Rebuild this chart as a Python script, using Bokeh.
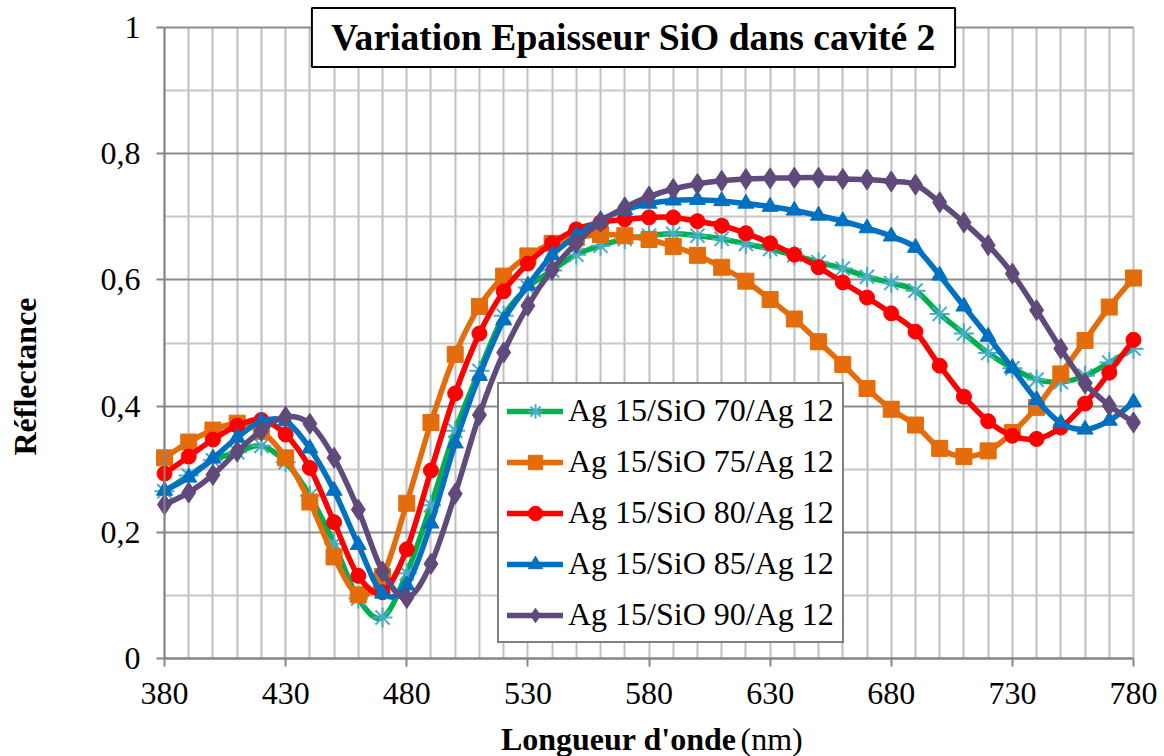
import math
from bokeh.plotting import figure
from bokeh.models import (Range1d, FixedTicker, CustomJSTickFormatter, Label,
                          Legend, LegendItem, ColumnDataSource)
from bokeh.embed import file_html
from bokeh.resources import INLINE

# ---------------- data ----------------
wavelength = [380, 390, 400, 410, 420, 430, 440, 450, 460, 470, 480, 490, 500,
              510, 520, 530, 540, 550, 560, 570, 580, 590, 600, 610, 620, 630,
              640, 650, 660, 670, 680, 690, 700, 710, 720, 730, 740, 750, 760,
              770, 780]

sio70 = [0.265, 0.290, 0.314, 0.327, 0.337, 0.311, 0.258, 0.182, 0.095, 0.065,
         0.135, 0.243, 0.361, 0.456, 0.543, 0.588, 0.615, 0.640, 0.654, 0.665,
         0.670, 0.673, 0.670, 0.665, 0.657, 0.649, 0.639, 0.628, 0.618, 0.605,
         0.595, 0.583, 0.546, 0.515, 0.484, 0.460, 0.442, 0.438, 0.448, 0.469,
         0.491]

sio75 = [0.318, 0.343, 0.362, 0.373, 0.360, 0.318, 0.248, 0.161, 0.101, 0.130,
         0.246, 0.374, 0.482, 0.558, 0.606, 0.638, 0.658, 0.667, 0.672, 0.670,
         0.664, 0.653, 0.639, 0.620, 0.598, 0.569, 0.538, 0.502, 0.466, 0.428,
         0.395, 0.370, 0.333, 0.320, 0.329, 0.358, 0.398, 0.451, 0.504, 0.557,
         0.603]

sio80 = [0.293, 0.320, 0.347, 0.369, 0.378, 0.355, 0.302, 0.216, 0.131, 0.105,
         0.173, 0.298, 0.420, 0.515, 0.582, 0.626, 0.658, 0.680, 0.691, 0.696,
         0.699, 0.699, 0.693, 0.686, 0.674, 0.658, 0.640, 0.620, 0.596, 0.572,
         0.547, 0.518, 0.464, 0.415, 0.376, 0.353, 0.348, 0.366, 0.404, 0.453,
         0.505]

sio85 = [0.266, 0.287, 0.317, 0.350, 0.376, 0.376, 0.333, 0.266, 0.180, 0.103,
         0.116, 0.214, 0.341, 0.448, 0.536, 0.591, 0.639, 0.670, 0.695, 0.711,
         0.721, 0.726, 0.727, 0.725, 0.721, 0.716, 0.710, 0.702, 0.693, 0.682,
         0.669, 0.651, 0.607, 0.558, 0.510, 0.460, 0.410, 0.373, 0.363, 0.377,
         0.406]

sio90 = [0.244, 0.263, 0.291, 0.328, 0.361, 0.383, 0.372, 0.318, 0.236, 0.138,
         0.096, 0.150, 0.261, 0.386, 0.485, 0.559, 0.616, 0.658, 0.692, 0.715,
         0.732, 0.744, 0.752, 0.757, 0.760, 0.761, 0.762, 0.762, 0.760, 0.759,
         0.756, 0.751, 0.723, 0.691, 0.655, 0.610, 0.552, 0.491, 0.436, 0.401,
         0.374]

series_names = ["Ag 15/SiO 70/Ag 12", "Ag 15/SiO 75/Ag 12", "Ag 15/SiO 80/Ag 12",
                "Ag 15/SiO 85/Ag 12", "Ag 15/SiO 90/Ag 12"]
series_values = [sio70, sio75, sio80, sio85, sio90]

x_ticks = [380, 430, 480, 530, 580, 630, 680, 730, 780]
y_ticks = [0, 0.2, 0.4, 0.6, 0.8, 1]
x_grid = list(range(380, 781, 10))
y_minor = [0.1, 0.3, 0.5, 0.7, 0.9]

# ---------------- styles / layout ----------------
line_colors = ["#00B050", "#E46C0A", "#FF0000", "#0070C0", "#604A7B"]
marker_colors = ["#4BACC6", "#E46C0A", "#FF0000", "#0070C0", "#604A7B"]
markers = ["asterisk", "square", "circle", "triangle", "diamond"]
marker_sizes = [20, 16, 15, 16, 21]
FONT = "Liberation Serif"
W, H = 1164, 756
PLOT_L, PLOT_R, PLOT_T, PLOT_B = 164, 1133, 27, 658   # plot area in pixels
X0, X1, Y0, Y1 = 380, 780, 0, 1


def dx(px):
    return X0 + (px - PLOT_L) * (X1 - X0) / (PLOT_R - PLOT_L)


def dy(py):
    return Y0 + (PLOT_B - py) * (Y1 - Y0) / (PLOT_B - PLOT_T)


def smooth_segments(xs, ys):
    """Bezier control points (Catmull-Rom style, like spreadsheet smoothing)."""
    n = len(xs)
    d = dict(x0=[], y0=[], x1=[], y1=[], cx0=[], cy0=[], cx1=[], cy1=[])
    for i in range(n - 1):
        xm, ym = (xs[i - 1], ys[i - 1]) if i > 0 else (xs[i], ys[i])
        xp, yp = (xs[i + 2], ys[i + 2]) if i + 2 < n else (xs[i + 1], ys[i + 1])
        d["x0"].append(xs[i]); d["y0"].append(ys[i])
        d["x1"].append(xs[i + 1]); d["y1"].append(ys[i + 1])
        d["cx0"].append(xs[i] + (xs[i + 1] - xm) / 6.0)
        d["cy0"].append(ys[i] + (ys[i + 1] - ym) / 6.0)
        d["cx1"].append(xs[i + 1] - (xp - xs[i]) / 6.0)
        d["cy1"].append(ys[i + 1] - (yp - ys[i]) / 6.0)
    return ColumnDataSource(d)


p = figure(width=W, height=H,
           x_range=Range1d(dx(0), dx(W)), y_range=Range1d(dy(H), dy(0)),
           output_backend="svg", toolbar_location=None, min_border=0)
p.title.visible = False
p.outline_line_color = None
p.background_fill_color = "white"
p.border_fill_color = "white"

# grids (limited to the data area)
p.xgrid.ticker = FixedTicker(ticks=x_grid)
p.xgrid.grid_line_color = "#BFBFBF"
p.xgrid.grid_line_width = 2
p.ygrid.ticker = FixedTicker(ticks=y_ticks, minor_ticks=y_minor)
p.ygrid.grid_line_color = "#8C8C8C"
p.ygrid.grid_line_width = 2
p.ygrid.minor_grid_line_color = "#C8C8C8"
p.ygrid.minor_grid_line_width = 2
p.xgrid.bounds = (X0, X1)
p.ygrid.bounds = (Y0, Y1)
p.xgrid.cross_bounds = (Y0, Y1)
p.ygrid.cross_bounds = (X0, X1)

# axes, fixed at the data origin
for ax in (p.xaxis[0], p.yaxis[0]):
    ax.axis_line_color = "#868686"
    ax.axis_line_width = 2
    ax.major_tick_line_color = "#868686"
    ax.major_tick_line_width = 2
    ax.major_tick_out = 8
    ax.major_tick_in = 0
    ax.minor_tick_line_color = None
    ax.major_label_text_font = FONT
    ax.major_label_text_font_size = "32px"
    ax.major_label_text_color = "black"

p.xaxis.ticker = FixedTicker(ticks=x_ticks)
p.xaxis.fixed_location = Y0
p.xaxis.bounds = (X0, X1)
p.xaxis.major_label_standoff = 16
p.yaxis.ticker = FixedTicker(ticks=y_ticks)
p.yaxis.fixed_location = X0
p.yaxis.bounds = (Y0, Y1)
p.yaxis.major_label_standoff = 16
p.yaxis.formatter = CustomJSTickFormatter(code="""
    if (Math.abs(tick) < 1e-9) return "0";
    if (Math.abs(tick - 1) < 1e-9) return "1";
    return tick.toFixed(1).replace('.', ',');
""")

# series
items = []
for name, vals, lc, mc, mk, ms in zip(series_names, series_values, line_colors,
                                      marker_colors, markers, marker_sizes):
    src = smooth_segments(wavelength, vals)
    r_line = p.bezier(x0="x0", y0="y0", x1="x1", y1="y1", cx0="cx0", cy0="cy0",
                      cx1="cx1", cy1="cy1", source=src, line_color=lc,
                      line_width=5.5, line_cap="round")
    if mk == "asterisk":
        r_mk = p.scatter(wavelength, vals, marker=mk, size=ms, line_color=mc,
                         line_width=2)
    else:
        r_mk = p.scatter(wavelength, vals, marker=mk, size=ms, fill_color=mc,
                         line_color=mc, line_width=1)
    items.append(LegendItem(label=name, renderers=[r_line, r_mk]))

legend = Legend(items=items, location=(497 - 0, H - 643))
legend.label_text_font = FONT
legend.label_text_font_size = "32px"
legend.label_text_color = "black"
legend.glyph_width = 56
legend.glyph_height = 36
legend.label_height = 36
legend.label_standoff = 5
legend.spacing = 14
legend.padding = 8
legend.margin = 0
legend.border_line_color = "black"
legend.border_line_width = 2
legend.background_fill_color = "white"
legend.background_fill_alpha = 1
p.add_layout(legend, "center")

# title box
title = Label(x=dx(633), y=dy(37), text="Variation Epaisseur SiO dans cavité 2",
              text_font=FONT, text_font_style="bold", text_font_size="37.6px",
              text_align="center", text_baseline="middle", text_color="black",
              background_fill_color="white", border_line_color="black",
              border_line_width=2, padding=(19, 9))
p.add_layout(title)

# y axis title
yl = Label(x=dx(24), y=dy(376), text="Réflectance", text_font=FONT,
           text_font_style="bold", text_font_size="32px", text_align="center",
           text_baseline="middle", text_color="black", angle=math.pi / 2)
p.add_layout(yl)

# x axis title (bold part + normal part)
xl1 = Label(x=dx(736), y=dy(738), text="Longueur d'onde", text_font=FONT,
            text_font_style="bold", text_font_size="32px", text_align="right",
            text_baseline="middle", text_color="black")
xl2 = Label(x=dx(740), y=dy(738), text="(nm)", text_font=FONT,
            text_font_size="32px", text_align="left",
            text_baseline="middle", text_color="black")
p.add_layout(xl1)
p.add_layout(xl2)

open("out.html", "w").write(file_html(p, INLINE))
